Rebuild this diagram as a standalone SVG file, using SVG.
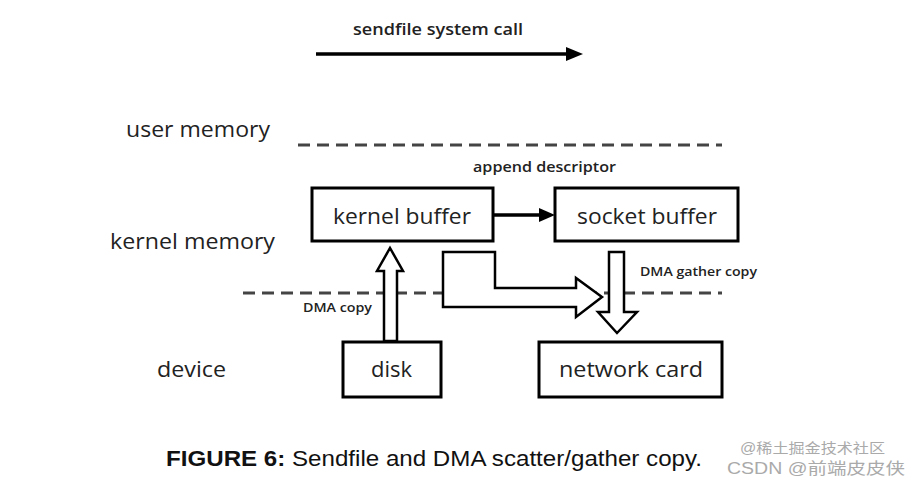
<svg xmlns="http://www.w3.org/2000/svg" width="914" height="490" viewBox="0 0 914 490">
<style>
.lbl{font-family:"Open Sans","Liberation Sans",sans-serif;fill:#222}
.box{fill:#fff;stroke:#000;stroke-width:3}
.dash{stroke:#444;stroke-width:3;stroke-dasharray:12 7;fill:none}
.hollow{fill:#fff;stroke:#000;stroke-width:2.5;stroke-linejoin:miter}
.line{stroke:#000;stroke-width:3.5;fill:none}
.cap{font-family:"Liberation Sans",Arial,sans-serif;fill:#111}
.wm{font-family:"Liberation Sans","Noto Sans CJK SC",sans-serif;fill:#aaa}
</style>
<rect width="914" height="490" fill="#fff"/>
<g id="lanes">
<line class="dash" x1="298" y1="145" x2="722" y2="145"/>
<line class="dash" x1="243" y1="293" x2="722" y2="293"/>
<text class="lbl" x="126" y="137" font-size="21" textLength="144" lengthAdjust="spacingAndGlyphs">user memory</text>
<text class="lbl" x="110" y="249" font-size="21" textLength="165" lengthAdjust="spacingAndGlyphs">kernel memory</text>
<text class="lbl" x="157" y="377" font-size="21" textLength="69" lengthAdjust="spacingAndGlyphs">device</text>
</g>
<g id="syscall">
<line class="line" x1="316" y1="54" x2="570" y2="54"/>
<polygon points="566,47 583,54 566,61" fill="#000"/>
<text class="lbl" x="353" y="35" font-size="17" font-weight="600" textLength="170" lengthAdjust="spacingAndGlyphs">sendfile system call</text>
</g>
<g id="connectors">
<line class="line" x1="493" y1="215" x2="541" y2="215" stroke-width="3"/>
<polygon points="539,208 555,215 539,222" fill="#000"/>
<text class="lbl" x="473" y="172" font-size="15" font-weight="600" textLength="143" lengthAdjust="spacingAndGlyphs">append descriptor</text>
<polygon class="hollow" points="384,341 384,271 377,271 390,248 403,271 397,271 397,341"/>
<text class="lbl" x="303" y="312" font-size="12" font-weight="600" textLength="69" lengthAdjust="spacingAndGlyphs">DMA copy</text>
<polygon class="hollow" points="443,252 495,252 495,288 576,288 576,278 602,297 576,317 576,307 443,307"/>
<polygon class="hollow" points="609,252 624,252 624,312 637,312 617,333 598,312 609,312"/>
<text class="lbl" x="640" y="276" font-size="12" font-weight="600" textLength="117" lengthAdjust="spacingAndGlyphs">DMA gather copy</text>
</g>
<g id="kernel-buffer">
<rect class="box" x="312" y="188" width="181" height="53"/>
<text class="lbl" x="333" y="224" font-size="22" textLength="138" lengthAdjust="spacingAndGlyphs">kernel buffer</text>
</g>
<g id="socket-buffer">
<rect class="box" x="555" y="188" width="183" height="53"/>
<text class="lbl" x="577" y="224" font-size="22" textLength="140" lengthAdjust="spacingAndGlyphs">socket buffer</text>
</g>
<g id="disk">
<rect class="box" x="343" y="342" width="98" height="55"/>
<text class="lbl" x="371" y="377" font-size="22" textLength="41" lengthAdjust="spacingAndGlyphs">disk</text>
</g>
<g id="network-card">
<rect class="box" x="539" y="342" width="183" height="55"/>
<text class="lbl" x="559" y="377" font-size="22" textLength="144" lengthAdjust="spacingAndGlyphs">network card</text>
</g>
<g id="caption">
<text class="cap" x="166" y="466" font-size="22" textLength="536" lengthAdjust="spacingAndGlyphs"><tspan font-weight="bold">FIGURE 6:</tspan> Sendfile and DMA scatter/gather copy.</text>
</g>
<g id="watermark">
<text class="wm" x="740" y="453" font-size="14" textLength="145" lengthAdjust="spacingAndGlyphs">@稀土掘金技术社区</text>
<text class="wm" x="727" y="474" font-size="16" textLength="178" lengthAdjust="spacingAndGlyphs">CSDN @前端皮皮侠</text>
</g>
</svg>
